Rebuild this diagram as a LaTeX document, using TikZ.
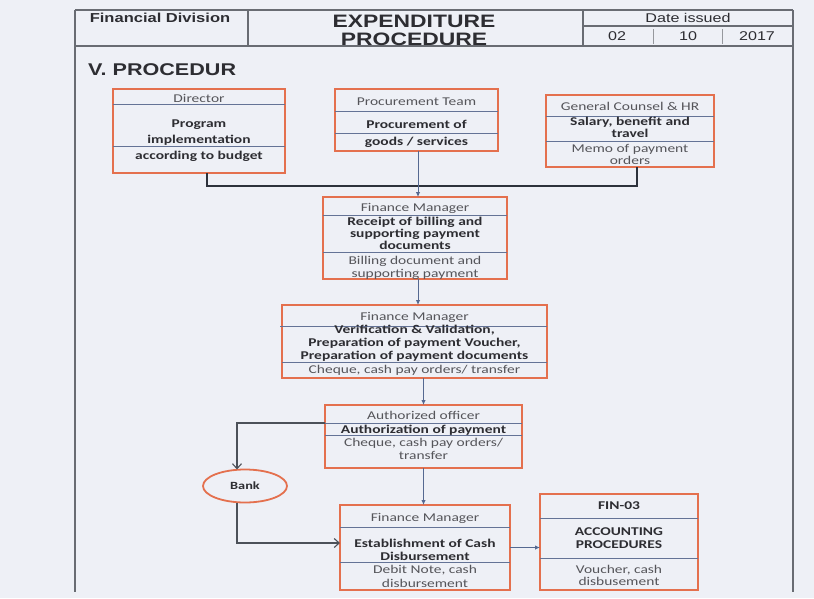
\documentclass[tikz,border=0pt]{standalone}
\usepackage{fontspec}
\usetikzlibrary{arrows.meta,shapes.geometric}
\newfontfamily\boxfont[FakeStretch=1.3]{Carlito}
\newfontfamily\hdrfont[FakeStretch=1.27]{Liberation Sans}
\definecolor{bgc}{RGB}{238,240,246}
\definecolor{orng}{RGB}{228,112,78}
\definecolor{divc}{RGB}{100,115,150}
\definecolor{frm}{RGB}{105,108,115}
\definecolor{txt}{RGB}{45,45,50}
\definecolor{txtl}{RGB}{85,85,90}
\definecolor{arrc}{RGB}{85,105,145}
\definecolor{busc}{RGB}{45,50,60}
\tikzset{
 box/.style={draw=orng, line width=1.8pt, inner sep=0pt, outer sep=0pt, rectangle},
 bankshape/.style={draw=orng, line width=1.8pt, ellipse, inner sep=0pt, outer sep=0pt, minimum width=84pt, minimum height=33pt},
 divl/.style={draw=divc, line width=0.8pt},
 hd/.style={font=\boxfont\fontsize{11.9}{13}\selectfont, text=txtl, inner sep=0pt, text height=8pt, text depth=2.5pt, yshift=-1.5pt},
 bd/.style={font=\boxfont\bfseries\fontsize{11.9}{13}\selectfont, text=txt, inner sep=0pt, text height=8pt, text depth=2.5pt, yshift=-1.5pt},
 frame/.style={draw=frm, line width=1.4pt},
 thinframe/.style={draw=frm!70, line width=0.8pt},
 htitle/.style={font=\hdrfont\bfseries\fontsize{18}{20}\selectfont, text=txt, inner sep=0pt},
 hsmall/.style={font=\hdrfont\fontsize{12.7}{14}\selectfont, text=txt, inner sep=0pt},
 hsmallb/.style={font=\hdrfont\bfseries\fontsize{13}{14}\selectfont, text=txt, inner sep=0pt},
 bus/.style={draw=busc, line width=1.8pt},
 flow/.style={draw=arrc, line width=0.9pt, -{Latex[length=5pt,width=4.5pt]}},
 openflow/.style={draw=busc!85, line width=1.1pt, -{Straight Barb[length=5pt,width=9pt]}},
}
\begin{document}
\begin{tikzpicture}[x=1pt,y=-1pt]
\useasboundingbox[fill=bgc] (0,0) rectangle (814,598);
% page frame and header
\draw[frame] (75,10) -- (793,10);
\draw[frame] (75,46) -- (793,46);
\draw[frame] (75,10) -- (75,592);
\draw[frame] (793,10) -- (793,592);
\draw[frame] (248,10) -- (248,46);
\draw[frame] (583,10) -- (583,46);
\draw[frame] (583,26) -- (793,26);
\draw[thinframe] (653,29) -- (653,44);
\draw[thinframe] (722,29) -- (722,44);
\node[hsmallb] (hfd) at (160,18) {Financial Division};
\node[htitle] (ht1) at (414,21) {EXPENDITURE};
\node[htitle] (ht2) at (414,39) {PROCEDURE};
\node[hsmall] (hdi) at (688,18) {Date issued};
\node[hsmall] (hd1) at (617,36) {02};
\node[hsmall] (hd2) at (688,36) {10};
\node[hsmall] (hd3) at (757,36) {2017};
\node[font=\hdrfont\bfseries\fontsize{17}{19}\selectfont, text=txt, inner sep=0pt, anchor=west] (sec) at (88,70) {V.\hspace{6pt}PROCEDUR};

% Director
\node[box, minimum width=172pt, minimum height=84pt] (dir) at (199,131) {};
\draw[divl] (113,104) -- (285,104);
\draw[divl] (113,146) -- (285,146);
\node[hd] (dir1) at (199,98) {Director};
\node[bd] (dir2) at (199,123) {Program};
\node[bd] (dir3) at (199,139) {implementation};
\node[bd] (dir4) at (199,155) {according to budget};

% Procurement
\node[box, minimum width=163pt, minimum height=62pt] (pro) at (416.5,120) {};
\draw[divl] (335,111) -- (498,111);
\draw[divl] (335,133) -- (498,133);
\node[hd] (pro1) at (416.5,101) {Procurement Team};
\node[bd] (pro2) at (416.5,124) {Procurement of};
\node[bd] (pro3) at (416.5,141) {goods / services};

% General Counsel
\node[box, minimum width=168pt, minimum height=72pt] (gc) at (630,131) {};
\draw[divl] (546,116) -- (714,116);
\draw[divl] (546,141) -- (714,141);
\node[hd] (gc1) at (630,106) {General Counsel \& HR};
\node[bd] (gc2) at (630,121) {Salary, benefit and};
\node[bd] (gc3) at (630,133) {travel};
\node[hd] (gc4) at (630,148) {Memo of payment};
\node[hd] (gc5) at (630,160) {orders};

% Finance Manager 1
\node[box, minimum width=184pt, minimum height=82pt] (fm1) at (415,238) {};
\draw[divl] (323,215) -- (507,215);
\draw[divl] (323,252) -- (507,252);
\node[hd] (fm1a) at (415,207) {Finance Manager};
\node[bd] (fm1b) at (415,221) {Receipt of billing and};
\node[bd] (fm1c) at (415,233) {supporting payment};
\node[bd] (fm1d) at (415,245) {documents};
\node[hd] (fm1e) at (415,260) {Billing document and};
\begin{scope}
\clip (323,252) rectangle (507,278);
\node[hd] (fm1f) at (415,273) {supporting payment};
\end{scope}

% Finance Manager 2
\node[box, minimum width=265pt, minimum height=73pt] (fm2) at (414.5,341.5) {};
\draw[divl] (280,326) -- (547,326);
\draw[divl] (282,362) -- (547,362);
\node[hd] (fm2a) at (414.5,316) {Finance Manager};
\node[bd] (fm2b) at (414.5,329) {Verification \& Validation,};
\node[bd] (fm2c) at (414.5,342) {Preparation of payment Voucher,};
\node[bd] (fm2d) at (414.5,355) {Preparation of payment documents};
\node[hd] (fm2e) at (414.5,369) {Cheque, cash pay orders/ transfer};

% Authorized officer
\node[box, minimum width=197pt, minimum height=63pt] (ao) at (423.5,436.5) {};
\draw[divl] (325,423) -- (522,423);
\draw[divl] (325,435) -- (522,435);
\node[hd] (ao1) at (423.5,415) {Authorized officer};
\node[bd] (ao2) at (423.5,429) {Authorization of payment};
\node[hd] (ao3) at (423.5,442) {Cheque, cash pay orders/};
\node[hd] (ao4) at (423.5,455) {transfer};

% Bank
\node[bankshape, font=\boxfont\bfseries\fontsize{11}{12}\selectfont, text=txt] (bank) at (245,486) {Bank};

% Finance Manager 3
\node[box, minimum width=170pt, minimum height=85pt] (fm3) at (425,547.5) {};
\draw[divl] (340,527) -- (510,527);
\draw[divl] (340,562) -- (510,562);
\node[hd] (fm3a) at (425,517) {Finance Manager};
\node[bd] (fm3b) at (425,543) {Establishment of Cash};
\node[bd] (fm3c) at (425,556) {Disbursement};
\node[hd] (fm3d) at (425,569) {Debit Note, cash};
\node[hd] (fm3e) at (425,583) {disbursement};

% FIN-03
\node[box, minimum width=158pt, minimum height=96pt] (fin) at (619,542) {};
\draw[divl] (540,518) -- (698,518);
\draw[divl] (540,558) -- (698,558);
\node[bd] (fin1) at (619,505) {FIN-03};
\node[bd] (fin2) at (619,531) {ACCOUNTING};
\node[bd] (fin3) at (619,544) {PROCEDURES};
\node[hd] (fin4) at (619,569) {Voucher, cash};
\node[hd] (fin5) at (619,581) {disbusement};

% connectors
\coordinate (dirtap) at (207,173);
\coordinate (gctap) at (637,167);
\coordinate (protap) at (418,151);
\coordinate (bushl) at (207,186);
\draw[bus] (dirtap) |- (gctap |- bushl) -- (gctap);
\draw[flow] (protap) -- (protap |- fm1.north);
\draw[flow] (fm1.south -| protap) -- (protap |- fm2.north);
\draw[flow] (fm2.south -| ao.north) -- (ao.north);
\draw[flow] (ao.south) -- (ao.south |- fm3.north);
\draw[flow] (fm3.east) -- (fin.west |- fm3.east);
\coordinate (aotap) at (325,423);
\coordinate (fm3in) at (340,543);
\draw[openflow] (aotap) -| ([xshift=-8pt]bank.north);
\draw[openflow] ([xshift=-8pt]bank.south) |- (fm3in);
\end{tikzpicture}
\end{document}
